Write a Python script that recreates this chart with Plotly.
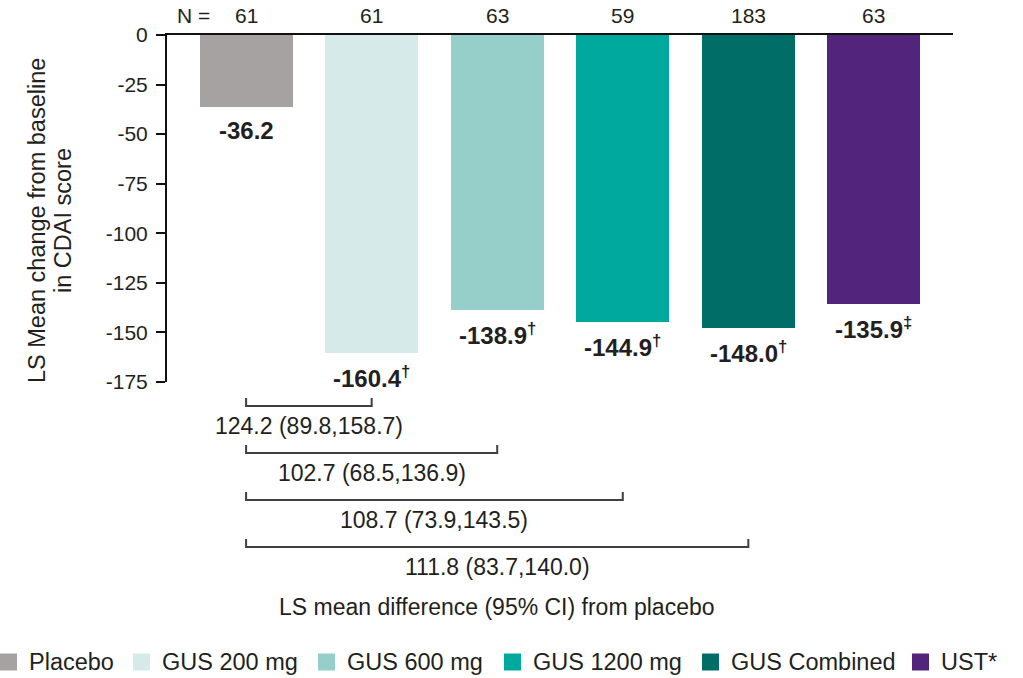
import plotly.graph_objects as go

# Treatment arms and results
groups = ["Placebo", "GUS 200 mg", "GUS 600 mg", "GUS 1200 mg", "GUS Combined", "UST*"]
n_patients = [61, 61, 63, 59, 183, 63]
ls_mean_change = [-36.2, -160.4, -138.9, -144.9, -148.0, -135.9]
significance = ["", "†", "†", "†", "†", "‡"]
bar_colors = ["#a7a2a2", "#d5eae9", "#96cfc9", "#00a99d", "#006e66", "#52247b"]

# LS mean difference vs placebo with 95% CI
diff_groups = ["GUS 200 mg", "GUS 600 mg", "GUS 1200 mg", "GUS Combined"]
diff_value = [124.2, 102.7, 108.7, 111.8]
diff_ci_low = [89.8, 68.5, 73.9, 83.7]
diff_ci_high = [158.7, 136.9, 143.5, 140.0]

y_ticks = [0, -25, -50, -75, -100, -125, -150, -175]

FONT = "Liberation Sans, Arial, sans-serif"
TEXT = "#231f20"
W, H = 1023, 678
M_L, M_R, M_T, M_B = 167, 70, 35, 296
PLOT_H = H - M_T - M_B
PLOT_W = W - M_L - M_R

# key row along the bottom edge (pixel offsets of each entry from the left edge)
KEY_X = [0, 133, 318, 504, 702, 912]
KEY_Y = 662
KEY_SQ = 17
KEY_TEXT_GAP = 10


def below(px):
    """Paper y for a point px pixels below the bottom of the plot area."""
    return -px / PLOT_H


def paper_x(px):
    return (px - M_L) / PLOT_W


def paper_y(py):
    return (H - M_B - py) / PLOT_H


fig = go.Figure()

fig.add_trace(go.Bar(
    x=groups, y=ls_mean_change, width=0.74,
    marker=dict(color=bar_colors, line=dict(width=0)),
    showlegend=False, hoverinfo="x+y",
))

annotations = []
shapes = []

# value labels under each bar
for g, v, s in zip(groups, ls_mean_change, significance):
    txt = f"<b>{v:.1f}</b>" + (f"<sup><b>{s}</b></sup>" if s else "")
    annotations.append(dict(
        x=g, y=v, xref="x", yref="y", text=txt, showarrow=False,
        yanchor="middle", yshift=-24,
        font=dict(family=FONT, size=24, color=TEXT),
    ))

# N counts above the axis
for g, n in zip(groups, n_patients):
    annotations.append(dict(
        x=g, y=1 + 19 / PLOT_H, xref="x", yref="paper", text=str(n),
        showarrow=False, yanchor="middle",
        font=dict(family=FONT, size=21, color=TEXT),
    ))
annotations.append(dict(
    x=groups[0], y=1 + 19 / PLOT_H, xref="x", yref="paper", text="N =",
    showarrow=False, yanchor="middle", xanchor="right", xshift=-34,
    font=dict(family=FONT, size=21, color=TEXT),
))

# brackets for the differences from placebo
ref_idx = 0
first_row, row_step, tick_h, label_gap = 24, 47, 8, 20
for i, (g, d, lo, hi) in enumerate(zip(diff_groups, diff_value, diff_ci_low, diff_ci_high)):
    y_line = below(first_row + i * row_step)
    y_tick = below(first_row + i * row_step - tick_h)
    j = groups.index(g)
    shapes.append(dict(
        type="path", xref="x", yref="paper",
        path=f"M {ref_idx},{y_tick} L {ref_idx},{y_line} L {j},{y_line} L {j},{y_tick}",
        line=dict(color="#404040", width=2),
    ))
    annotations.append(dict(
        x=(ref_idx + j) / 2, y=below(first_row + i * row_step + label_gap),
        xref="x", yref="paper", text=f"{d:.1f} ({lo:.1f},{hi:.1f})",
        showarrow=False, yanchor="middle",
        font=dict(family=FONT, size=23, color=TEXT),
    ))

annotations.append(dict(
    x=(ref_idx + groups.index(diff_groups[-1])) / 2, y=below(225),
    xref="x", yref="paper", text="LS mean difference (95% CI) from placebo",
    showarrow=False, yanchor="middle",
    font=dict(family=FONT, size=23, color=TEXT),
))

# y-axis title, two lines
for txt, xp in [("LS Mean change from baseline", 37), ("in CDAI score", 63)]:
    annotations.append(dict(
        x=paper_x(xp), y=0.464, xref="paper", yref="paper",
        text=txt, textangle=-90, showarrow=False,
        xanchor="center", yanchor="middle",
        font=dict(family=FONT, size=23.5, color=TEXT),
    ))

# key: colour squares with group names
for g, c, kx in zip(groups, bar_colors, KEY_X):
    shapes.append(dict(
        type="rect", xref="paper", yref="paper",
        x0=paper_x(kx), x1=paper_x(kx + KEY_SQ),
        y0=paper_y(KEY_Y + KEY_SQ / 2), y1=paper_y(KEY_Y - KEY_SQ / 2),
        fillcolor=c, line=dict(width=0),
    ))
    annotations.append(dict(
        x=paper_x(kx + KEY_SQ + KEY_TEXT_GAP), y=paper_y(KEY_Y),
        xref="paper", yref="paper", text=g, showarrow=False,
        xanchor="left", yanchor="middle",
        font=dict(family=FONT, size=23.5, color=TEXT),
    ))

fig.update_layout(
    width=W, height=H,
    margin=dict(l=M_L, r=M_R, t=M_T, b=M_B, autoexpand=False),
    plot_bgcolor="white", paper_bgcolor="white",
    font=dict(family=FONT, color=TEXT),
    showlegend=False,
    bargap=0,
    xaxis=dict(
        side="top", range=[-0.63, 5.63], showline=True, linecolor="#111111",
        linewidth=2, showticklabels=False, ticks="", showgrid=False,
        zeroline=False, fixedrange=True,
    ),
    yaxis=dict(
        range=[-175, 0], tickvals=y_ticks, ticktext=[str(v) for v in y_ticks],
        ticks="outside", ticklen=9,
        tickwidth=2, tickcolor="#111111", showline=True, linecolor="#111111",
        linewidth=2, showgrid=False, zeroline=False,
        tickfont=dict(family=FONT, size=21, color=TEXT),
        ticklabelstandoff=4, fixedrange=True,
    ),
    annotations=annotations,
    shapes=shapes,
)

fig.write_html("out.html")
